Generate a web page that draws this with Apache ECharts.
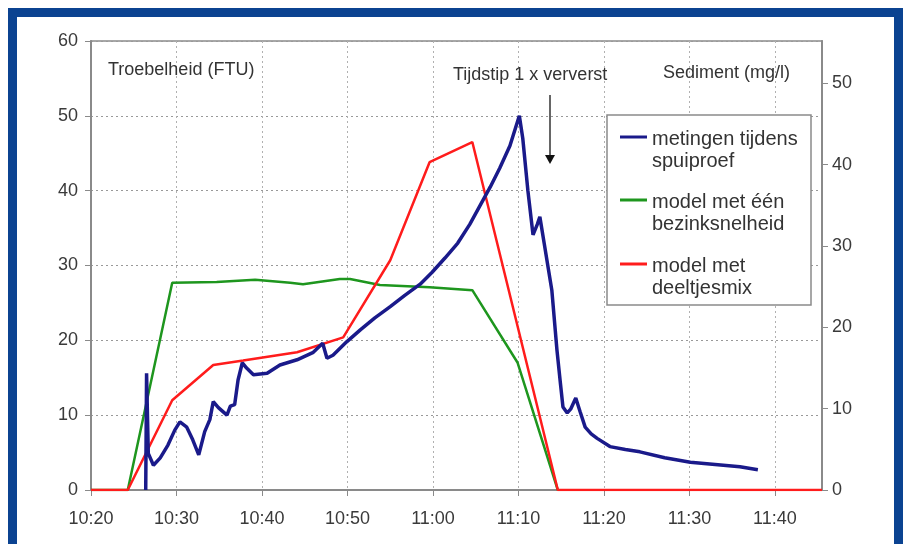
<!DOCTYPE html>
<html>
<head>
<meta charset="utf-8">
<script src="https://cdn.jsdelivr.net/npm/echarts@6/dist/echarts.min.js"></script>
<style>
html,body{margin:0;padding:0;background:#fff;}
#chart{width:906px;height:544px;}
</style>
</head>
<body>
<div id="chart"></div>
<script>
// time in minutes since midnight
const blueTime = [626.4,626.5,626.7,627.3,628.1,629.0,629.8,630.4,631.2,631.9,632.6,633.3,633.9,634.3,634.9,635.9,636.3,636.8,637.2,637.7,638.2,639.0,640.6,642.1,644.1,646.0,647.1,647.6,648.3,649.9,651.5,653.2,655.0,656.7,658.5,659.9,661.4,662.9,664.3,665.5,666.7,667.8,669.0,670.1,670.5,671.1,671.7,672.2,672.5,673.0,673.5,673.9,674.5,674.9,675.2,675.7,676.1,676.7,677.2,677.8,678.5,679.2,680.7,682.5,684.2,687.1,690.1,693.0,695.9,698.0];
const blueValues = [0,15.6,4.9,3.3,4.3,6.0,8.0,9.1,8.4,6.7,4.7,7.8,9.4,11.8,11.0,10.0,11.2,11.4,14.7,17.0,16.3,15.4,15.6,16.7,17.4,18.4,19.6,17.6,18.0,19.8,21.4,23.0,24.5,26.0,27.5,29.1,31.0,33.0,35.5,38.0,40.5,43.0,46.0,50.0,47.0,40.0,34.1,35.5,36.5,33.0,29.5,26.7,18.7,14.3,11.1,10.3,10.8,12.3,10.5,8.4,7.5,6.9,5.8,5.4,5.1,4.3,3.7,3.4,3.1,2.7];
const greenTime = [620,624.3,629.5,634.7,639.2,643.3,644.8,649.1,650.3,653.8,659.6,664.6,669.9,674.6];
const greenValues = [0,0,27.7,27.8,28.1,27.7,27.5,28.2,28.2,27.4,27.1,26.7,17.0,0];
const redTime = [620,624.3,629.5,634.3,637.8,644.1,649.5,655.0,659.6,664.6,674.6,705.5];
const redValues = [0,0,12.0,16.7,17.3,18.4,20.4,30.7,43.8,46.5,0,0];
const leftTicks = [0,10,20,30,40,50,60];
const rightTicks = [0,10,20,30,40,50];
const seriesNames = ['metingen tijdens\nspuiproef','model met één\nbezinksnelheid','model met\ndeeltjesmix'];
const colors = ['#1a1a8a','#1e961e','#ff1c1c'];

function zip(a,b){return a.map((v,i)=>[v,b[i]]);}
function fmtTime(v){const h=Math.floor(v/60), m=Math.round(v-h*60);return h+':'+(m<10?'0':'')+m;}

const FONT = '"Liberation Sans", Arial, sans-serif';
const chart = echarts.init(document.getElementById('chart'));

const legendItems = [];
const legendY = [140, 203, 267];
seriesNames.forEach((n,i)=>{
  legendItems.push({type:'line',shape:{x1:620,y1:legendY[i]-3,x2:647,y2:legendY[i]-3},style:{stroke:colors[i],lineWidth:3},z:101});
  legendItems.push({type:'text',x:652,y:legendY[i]-12,style:{text:n,font:'20px '+FONT,fill:'#333',lineHeight:22,textVerticalAlign:'top'},z:101});
});

chart.setOption({
  animation:false,
  backgroundColor:'#fff',
  grid:{left:91,right:84,top:41,bottom:54,show:true,borderColor:'#8a8a8a',borderWidth:1.5},
  xAxis:{type:'value',min:620,max:705.5,interval:10,
    axisLine:{onZero:false,lineStyle:{color:'#8a8a8a',width:2}},
    axisTick:{length:6,lineStyle:{color:'#8a8a8a'}},
    axisLabel:{formatter:fmtTime,showMaxLabel:false,color:'#3a3a3a',fontSize:18,fontFamily:FONT,margin:20},
    splitLine:{show:true,lineStyle:{type:[2,3],color:'#b0b0b0',width:1}}},
  yAxis:[
    {type:'value',min:leftTicks[0],max:leftTicks[leftTicks.length-1],interval:10,position:'left',
     axisLine:{show:true,lineStyle:{color:'#8a8a8a',width:2}},
     axisTick:{show:true,length:6,lineStyle:{color:'#8a8a8a'}},
     axisLabel:{color:'#3a3a3a',fontSize:18,fontFamily:FONT,margin:13},
     splitLine:{show:true,lineStyle:{type:[2,3],color:'#999',width:1}}},
    {type:'value',min:rightTicks[0],max:55.2,interval:10,position:'right',
     axisLine:{show:true,lineStyle:{color:'#8a8a8a',width:2}},
     axisTick:{show:true,length:6,lineStyle:{color:'#8a8a8a'}},
     axisLabel:{color:'#3a3a3a',fontSize:18,fontFamily:FONT,margin:10,showMaxLabel:false,
       formatter:v=>rightTicks.indexOf(v)>=0?String(v):''},
     splitLine:{show:false}}
  ],
  series:[
    {name:seriesNames[1],type:'line',data:zip(greenTime,greenValues),showSymbol:false,lineStyle:{color:colors[1],width:2.5},z:2},
    {name:seriesNames[2],type:'line',data:zip(redTime,redValues),showSymbol:false,lineStyle:{color:colors[2],width:2.5},z:3},
    {name:seriesNames[0],type:'line',data:zip(blueTime,blueValues),showSymbol:false,lineStyle:{color:colors[0],width:3.5},z:4}
  ],
  graphic:[
    {type:'rect',shape:{x:12.5,y:12.5,width:886,height:560},style:{fill:'none',stroke:'#0b4391',lineWidth:9},z:200},
    {type:'text',x:108,y:70,style:{text:'Troebelheid (FTU)',font:'18px '+FONT,fill:'#333',textVerticalAlign:'middle'},z:100},
    {type:'text',x:453,y:75,style:{text:'Tijdstip 1 x ververst',font:'18px '+FONT,fill:'#333',textVerticalAlign:'middle'},z:100},
    {type:'text',x:663,y:73,style:{text:'Sediment (mg/l)',font:'18px '+FONT,fill:'#333',textVerticalAlign:'middle'},z:100},
    {type:'line',shape:{x1:550,y1:95,x2:550,y2:156},style:{stroke:'#333',lineWidth:1.5},z:100},
    {type:'polygon',shape:{points:[[545,155],[555,155],[550,164]]},style:{fill:'#111'},z:100},
    {type:'rect',shape:{x:607,y:115,width:204,height:190},style:{fill:'#fff',stroke:'#8a8a8a',lineWidth:1.5},z:100}
  ].concat(legendItems)
});
</script>
</body>
</html>
